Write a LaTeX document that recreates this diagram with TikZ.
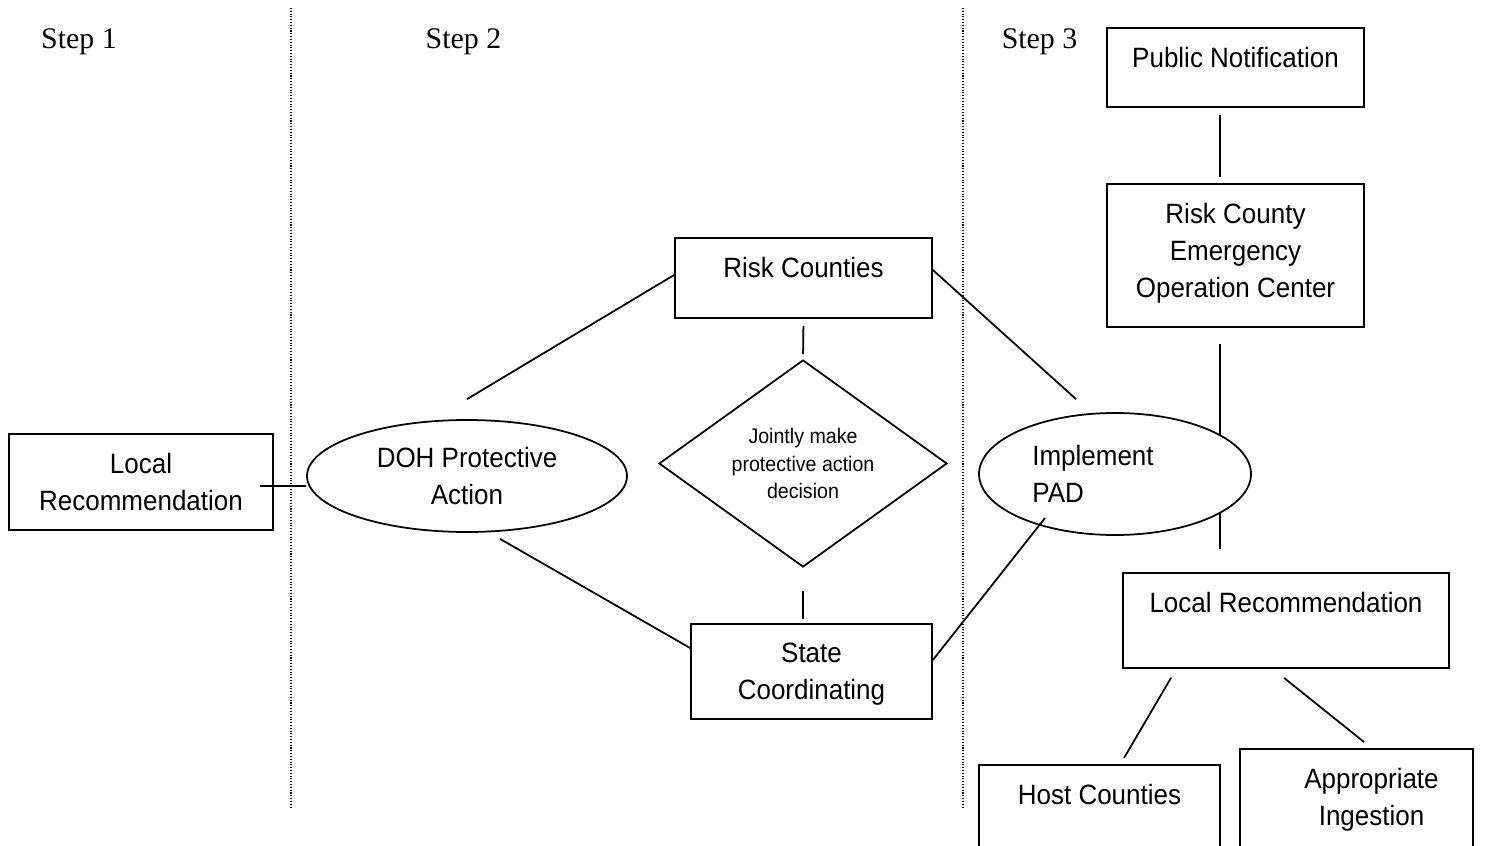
\documentclass[tikz,border=0pt]{standalone}
\usepackage{fontspec}
\setmainfont{Liberation Sans}[FakeStretch=0.93]
\newfontfamily\stepfont{Liberation Serif}
\usetikzlibrary{shapes.geometric}

\begin{document}
\begin{tikzpicture}[
  box/.style={draw, line width=1pt, inner sep=0pt},
  boxtext/.style={anchor=north, yshift=-0.4cm, inner sep=0pt, align=center, font=\fontsize{15.9}{21}\selectfont},
  oval/.style={draw, ellipse, line width=1pt, fill=white, inner sep=0pt, align=center, font=\fontsize{15.9}{21}\selectfont},
  decision/.style={draw, diamond, aspect=1.39, line width=1pt, inner sep=0pt, align=center, font=\fontsize{12}{15.6}\selectfont},
  steplabel/.style={font=\stepfont\fontsize{17}{20}\selectfont},
  divider/.style={densely dotted, line width=0.6pt},
  link/.style={line width=1pt}]
\useasboundingbox (0,0) rectangle (30.04,-16.92);
\clip (0,0) rectangle (30.04,-16.92);

% steps and dividers
\node[steplabel] (s1) at (1.58,-0.84) {Step 1};
\node[steplabel] (s2) at (9.27,-0.84) {Step 2};
\node[steplabel] (s3) at (20.79,-0.84) {Step 3};
\draw[divider] (5.82,-0.16) -- (5.82,-16.16);
\draw[divider] (19.26,-0.16) -- (19.26,-16.16);

% step 1 and 2
\node[box, minimum width=5.28cm, minimum height=1.92cm, label={[boxtext]north:Local\\Recommendation}] (lrecA) at (2.82,-9.64) {};
\node[oval, minimum width=6.4cm, minimum height=2.24cm] (doh) at (9.34,-9.52) {DOH Protective\\Action};
\node[box, minimum width=5.14cm, minimum height=1.6cm, label={[boxtext]north:Risk Counties}] (rc) at (16.07,-5.56) {};
\node[decision, minimum width=5.76cm, minimum height=4.14cm] (dia) at (16.06,-9.27) {Jointly make\\protective action\\decision};
\node[box, minimum width=4.82cm, minimum height=1.9cm, label={[boxtext]north:State\\Coordinating}] (sc) at (16.23,-13.43) {};

% step 3
\node[box, minimum width=5.14cm, minimum height=1.58cm, label={[boxtext]north:Public Notification}] (pn) at (24.71,-1.35) {};
\node[box, minimum width=5.14cm, minimum height=2.86cm, label={[boxtext]north:Risk County\\Emergency\\Operation Center}] (eoc) at (24.71,-5.11) {};
\node[box, minimum width=6.52cm, minimum height=1.9cm, label={[boxtext]north:Local Recommendation}] (lrecB) at (25.72,-12.41) {};
\draw[link, shorten <=0.32cm, shorten >=0.46cm] ([xshift=-0.31cm]eoc.south) -- ([xshift=-0.31cm]eoc.south |- lrecB.north);
\node[oval, minimum width=5.44cm, minimum height=2.44cm, label={[anchor=center, xshift=-0.44cm, align=left, inner sep=0pt, font=\fontsize{15.9}{21}\selectfont]center:Implement\\PAD}] (imp) at (22.30,-9.48) {};
\node[box, anchor=north, minimum width=4.82cm, minimum height=2cm, label={[boxtext]north:Host Counties}] (host) at (21.99,-15.28) {};
\node[box, anchor=north, minimum width=4.66cm, minimum height=2cm, label={[boxtext, xshift=0.3cm]north:Appropriate\\Ingestion}] (app) at (27.13,-14.96) {};

% connectors
\draw[link] ([xshift=-0.28cm,yshift=-0.08cm]lrecA.east) -- ([yshift=-0.2cm]doh.west);
\draw[link] ([yshift=0.06cm]rc.west) -- ([yshift=0.4cm]doh.north);
\draw[link] ([xshift=0.66cm,yshift=-0.12cm]doh.south) -- ([yshift=0.47cm]sc.west);
\draw[link, shorten <=0.14cm, shorten >=0.1cm] (rc.south) -- (dia.north);
\draw[link, shorten <=0.46cm, shorten >=0.08cm] (dia.south) -- (dia.south |- sc.north);
\draw[link] ([yshift=0.16cm]rc.east) -- ([xshift=-0.78cm,yshift=0.26cm]imp.north);
\draw[link] ([xshift=-1.4cm,yshift=-0.88cm]imp.center) -- ([yshift=0.23cm]sc.east);
\draw[link, shorten <=0.14cm, shorten >=0.12cm] ([xshift=-0.31cm]pn.south) -- ([xshift=-0.31cm]eoc.north);
\draw[link] ([xshift=-2.3cm,yshift=-0.18cm]lrecB.south) -- ([xshift=0.49cm,yshift=0.12cm]host.north);
\draw[link] ([xshift=-0.04cm,yshift=-0.18cm]lrecB.south) -- ([xshift=0.15cm,yshift=0.12cm]app.north);
\end{tikzpicture}
\end{document}
